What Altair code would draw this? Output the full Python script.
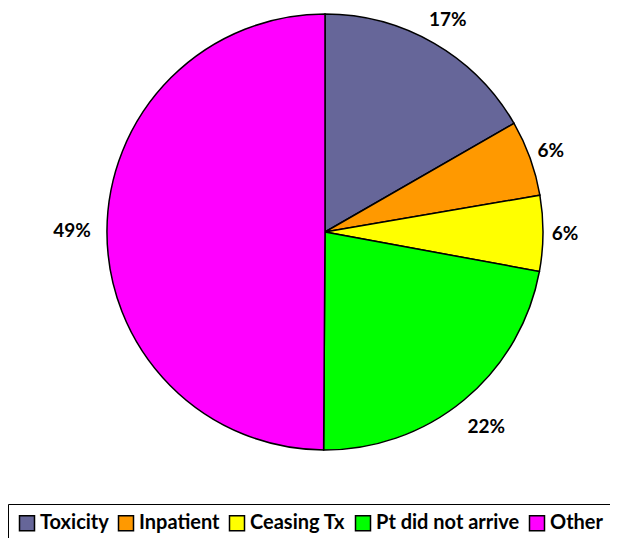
import altair as alt
import pandas as pd

categories = ["Toxicity", "Inpatient", "Ceasing Tx", "Pt did not arrive", "Other"]
values = [16.7, 5.6, 5.6, 22.2, 49.9]
labels = ["17%", "6%", "6%", "22%", "49%"]
colors = ["#666699", "#FF9900", "#FFFF00", "#00FF00", "#FF00FF"]

df = pd.DataFrame({
    "category": categories,
    "value": values,
    "label": labels,
    "order": list(range(len(categories))),
})

cx, cy, R = 317, 224, 218

base = alt.Chart(df).encode(
    theta=alt.Theta("value:Q", stack=True),
    order=alt.Order("order:Q"),
    x=alt.value(cx),
    y=alt.value(cy),
)

pie = base.mark_arc(outerRadius=R, stroke="black", strokeWidth=1.5).encode(
    color=alt.Color(
        "category:N",
        scale=alt.Scale(domain=categories, range=colors),
        sort=categories,
        legend=alt.Legend(
            title=None,
            orient="none",
            legendX=0,
            legendY=496,
            direction="horizontal",
            symbolType="square",
            symbolSize=225,
            symbolStrokeColor="black",
            symbolStrokeWidth=1.5,
            labelFont="Lato",
            labelFontWeight="bold",
            labelFontSize=20,
            labelColor="black",
            labelOffset=3,
            columnPadding=6,
            padding=9,
            strokeColor="black",
            fillColor="white",
            labelLimit=300,
        ),
    )
)

text = base.mark_text(
    font="Lato", fontWeight="bold", fontSize=19, color="black",
    radius=alt.ExprRef(expr="datum.value < 10 ? 240 : datum.value < 20 ? 245 : 253"),
).encode(text="label:N")

chart = (pie + text).properties(
    width=602, height=530, autosize=alt.AutoSizeParams(type="none"), padding=0
).configure_view(stroke=None)

chart.save("out.html", embed_options={"renderer": "svg", "actions": False})
